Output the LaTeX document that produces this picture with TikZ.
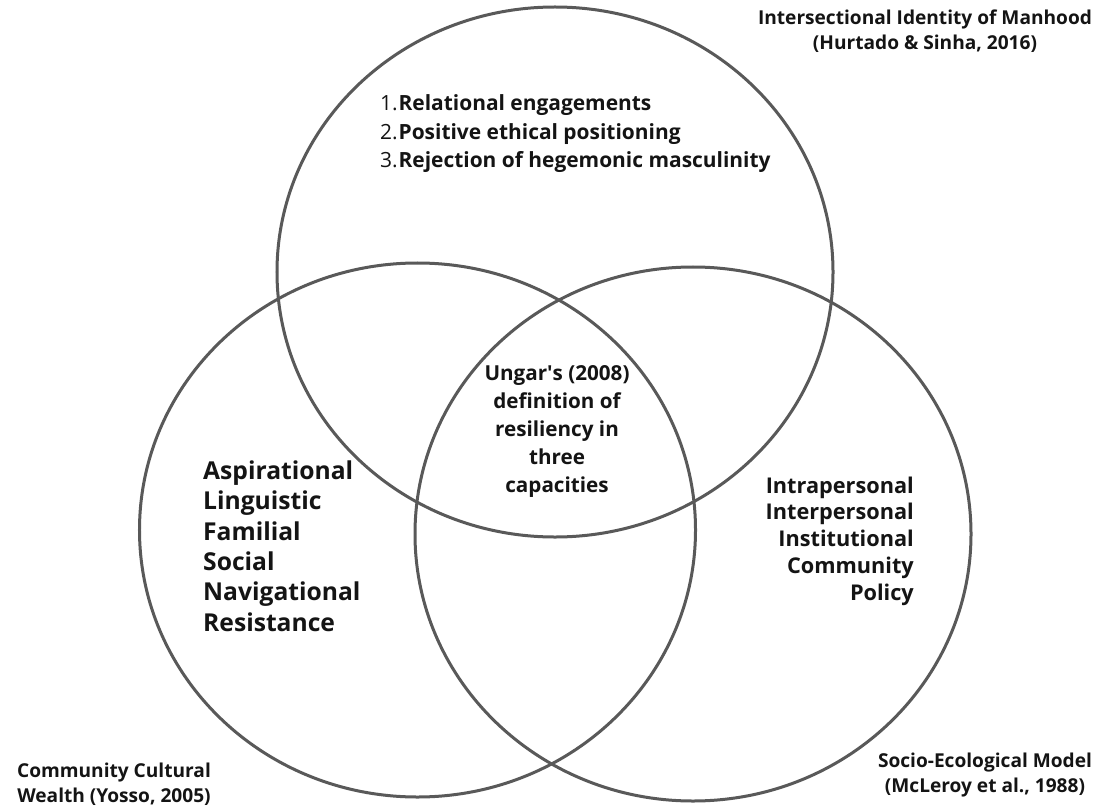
\documentclass[tikz,border=0pt]{standalone}
\usepackage{fontspec}
\setmainfont{Open Sans}
\usetikzlibrary{shapes.geometric}
\definecolor{ring}{HTML}{595959}
\definecolor{ink}{HTML}{141414}
% bold font sized so that #2 is #1 bp wide, with #3 bp between lines
\newlength\fitprobe
\newcommand\fitfont[3]{%
  \settowidth\fitprobe{\bfseries\fontsize{10bp}{12bp}\selectfont #2}%
  \pgfmathsetmacro\fitsz{10*#1*1.00375/\fitprobe}%
  \fontsize{\fitsz bp}{#3bp}\selectfont\bfseries}
\begin{document}
\begin{tikzpicture}[x=1bp,y=-1bp,
  venn/.style={ellipse, draw=ring, line width=3bp, inner sep=0pt,
    minimum width=556bp, minimum height=534bp},
  txt/.style={inner sep=0pt, text=ink},
  num/.style={txt, align=left,
    font=\fitfont{372}{Rejection of hegemonic masculinity}{28.5}},
  core/.style={txt, align=center,
    font=\fitfont{145}{Ungar\textquotesingle s (2008)}{28}},
  leftlist/.style={txt, align=left,
    font=\fitfont{150}{Aspirational}{30.4}},
  rightlist/.style={txt, align=right,
    font=\fitfont{148}{Intrapersonal}{26.8}},
  caption/.style={txt, align=center,
    font=\fitfont{214}{Socio-Ecological Model}{24.5}}]
\useasboundingbox (0,0) rectangle (1100,808);
\fill[white] (0,0) rectangle (1100,808);

% the three overlapping frameworks
\node[venn, minimum height=530bp] (manhood) at (555,272) {};
\node[venn] (wealth) at (417.5,530) {};
\node[venn] (ecology) at (693,534) {};

% contents of each framework
\node[num, anchor=west] (traits) at (380,134)
  {\makebox[0.88em][l]{\mdseries 1.}Relational engagements\\
   \makebox[0.88em][l]{\mdseries 2.}Positive ethical positioning\\
   \makebox[0.88em][l]{\mdseries 3.}Rejection of hegemonic masculinity};
\node[core] (resiliency) at (557,431)
  {Ungar\textquotesingle s (2008)\\definition of\\resiliency in\\three\\capacities};
\node[leftlist, anchor=west] (capitals) at (203,546)
  {Aspirational\\Linguistic\\Familial\\Social\\Navigational\\Resistance};
\node[rightlist, anchor=east] (levels) at (914,541)
  {Intrapersonal\\Interpersonal\\Institutional\\Community\\Policy};

% framework names
\node[caption] (manhoodname) at (925,31)
  {Intersectional Identity of Manhood\\(Hurtado \& Sinha, 2016)};
\node[caption] (wealthname) at (114,784)
  {Community Cultural\\Wealth (Yosso, 2005)};
\node[caption] (ecologyname) at (985,775)
  {Socio-Ecological Model\\(McLeroy et al., 1988)};
\end{tikzpicture}
\end{document}
